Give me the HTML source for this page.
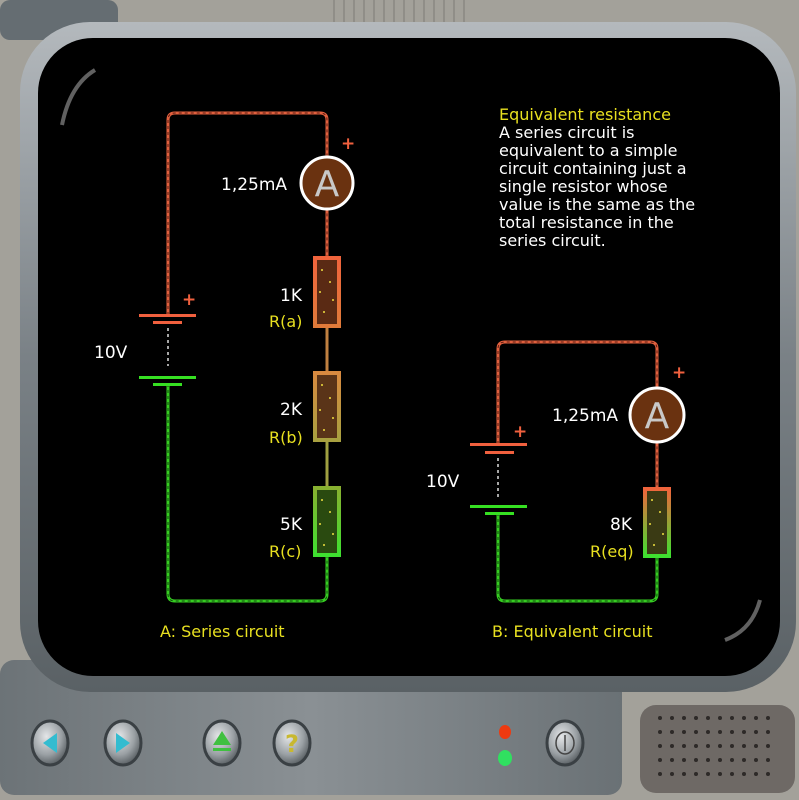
<!DOCTYPE html>
<html><head><meta charset="utf-8"><style>
html,body{margin:0;padding:0;background:#a3a19a}
svg{display:block}
text{font-family:"DejaVu Sans","Liberation Sans",sans-serif}
</style></head><body>
<svg width="799" height="800" viewBox="0 0 799 800" xmlns="http://www.w3.org/2000/svg">
<defs>
<linearGradient id="bz" x1="0" y1="0" x2="0" y2="1"><stop offset="0" stop-color="#b4b9bd"/><stop offset="0.5" stop-color="#7a8186"/><stop offset="1" stop-color="#5a6165"/></linearGradient>
<linearGradient id="pn" x1="0" y1="0" x2="1" y2="0"><stop offset="0" stop-color="#6c7377"/><stop offset="0.5" stop-color="#8a9094"/><stop offset="1" stop-color="#6a7175"/></linearGradient>
<linearGradient id="r1" x1="0" y1="0" x2="0" y2="1"><stop offset="0" stop-color="#f0643c"/><stop offset="1" stop-color="#e07a3a"/></linearGradient>
<linearGradient id="r2" x1="0" y1="0" x2="0" y2="1"><stop offset="0" stop-color="#d88a40"/><stop offset="1" stop-color="#a8a040"/></linearGradient>
<linearGradient id="r3" x1="0" y1="0" x2="0" y2="1"><stop offset="0" stop-color="#88b030"/><stop offset="1" stop-color="#3ee030"/></linearGradient>
<linearGradient id="r4" x1="0" y1="0" x2="0" y2="1"><stop offset="0" stop-color="#f0643c"/><stop offset="1" stop-color="#3ee030"/></linearGradient>
<radialGradient id="btn" cx="0.4" cy="0.35" r="0.7"><stop offset="0" stop-color="#e4e6e8"/><stop offset="0.6" stop-color="#9aa0a4"/><stop offset="1" stop-color="#50565a"/></radialGradient>
</defs>
<rect x="0" y="0" width="799" height="800" fill="#a3a19a"/>
<rect x="0" y="0" width="118" height="40" rx="10" fill="#656d72"/>
<g stroke="#8a8882" stroke-width="1.5">
<line x1="334" y1="0" x2="334" y2="22"/><line x1="344" y1="0" x2="344" y2="22"/><line x1="354" y1="0" x2="354" y2="22"/><line x1="364" y1="0" x2="364" y2="22"/><line x1="374" y1="0" x2="374" y2="22"/><line x1="384" y1="0" x2="384" y2="22"/><line x1="394" y1="0" x2="394" y2="22"/><line x1="404" y1="0" x2="404" y2="22"/><line x1="414" y1="0" x2="414" y2="22"/><line x1="424" y1="0" x2="424" y2="22"/><line x1="434" y1="0" x2="434" y2="22"/><line x1="444" y1="0" x2="444" y2="22"/><line x1="454" y1="0" x2="454" y2="22"/><line x1="464" y1="0" x2="464" y2="22"/>
</g>
<rect x="0" y="660" width="622" height="135" rx="14" fill="url(#pn)"/>
<rect x="640" y="705" width="155" height="88" rx="16" fill="#6e6965"/>
<g fill="#2d2a28">
<circle cx="660" cy="718" r="2"/><circle cx="672" cy="718" r="2"/><circle cx="684" cy="718" r="2"/><circle cx="696" cy="718" r="2"/><circle cx="708" cy="718" r="2"/><circle cx="720" cy="718" r="2"/><circle cx="732" cy="718" r="2"/><circle cx="744" cy="718" r="2"/><circle cx="756" cy="718" r="2"/><circle cx="768" cy="718" r="2"/>
<circle cx="660" cy="732" r="2"/><circle cx="672" cy="732" r="2"/><circle cx="684" cy="732" r="2"/><circle cx="696" cy="732" r="2"/><circle cx="708" cy="732" r="2"/><circle cx="720" cy="732" r="2"/><circle cx="732" cy="732" r="2"/><circle cx="744" cy="732" r="2"/><circle cx="756" cy="732" r="2"/><circle cx="768" cy="732" r="2"/>
<circle cx="660" cy="746" r="2"/><circle cx="672" cy="746" r="2"/><circle cx="684" cy="746" r="2"/><circle cx="696" cy="746" r="2"/><circle cx="708" cy="746" r="2"/><circle cx="720" cy="746" r="2"/><circle cx="732" cy="746" r="2"/><circle cx="744" cy="746" r="2"/><circle cx="756" cy="746" r="2"/><circle cx="768" cy="746" r="2"/>
<circle cx="660" cy="760" r="2"/><circle cx="672" cy="760" r="2"/><circle cx="684" cy="760" r="2"/><circle cx="696" cy="760" r="2"/><circle cx="708" cy="760" r="2"/><circle cx="720" cy="760" r="2"/><circle cx="732" cy="760" r="2"/><circle cx="744" cy="760" r="2"/><circle cx="756" cy="760" r="2"/><circle cx="768" cy="760" r="2"/>
<circle cx="660" cy="774" r="2"/><circle cx="672" cy="774" r="2"/><circle cx="684" cy="774" r="2"/><circle cx="696" cy="774" r="2"/><circle cx="708" cy="774" r="2"/><circle cx="720" cy="774" r="2"/><circle cx="732" cy="774" r="2"/><circle cx="744" cy="774" r="2"/><circle cx="756" cy="774" r="2"/><circle cx="768" cy="774" r="2"/>
</g>
<rect x="20" y="22" width="776" height="670" rx="70" fill="url(#bz)"/>
<rect x="38" y="38" width="742" height="638" rx="55" fill="#000"/>
<path d="M95 70 Q70 85 62 125" stroke="#8a8a8a" stroke-width="4" fill="none" opacity="0.7"/>
<path d="M760 600 Q752 630 725 640" stroke="#8a8a8a" stroke-width="4" fill="none" opacity="0.7"/>
<g>
<ellipse cx="50" cy="743" rx="18" ry="22" fill="url(#btn)" stroke="#3a4044" stroke-width="3"/>
<polygon points="57,733 57,753 43,743" fill="#33bcd0"/>
<ellipse cx="123" cy="743" rx="18" ry="22" fill="url(#btn)" stroke="#3a4044" stroke-width="3"/>
<polygon points="116,733 116,753 130,743" fill="#33bcd0"/>
<ellipse cx="222" cy="743" rx="18" ry="22" fill="url(#btn)" stroke="#3a4044" stroke-width="3"/>
<polygon points="213,745 231,745 222,731" fill="#40c040"/><rect x="213" y="748" width="18" height="3" fill="#40c040"/>
<ellipse cx="292" cy="743" rx="18" ry="22" fill="url(#btn)" stroke="#3a4044" stroke-width="3"/>
<text x="292" y="752" font-size="24" font-weight="bold" fill="#c8b830" text-anchor="middle">?</text>
<ellipse cx="565" cy="743" rx="18" ry="22" fill="url(#btn)" stroke="#3a4044" stroke-width="3"/>
<ellipse cx="565" cy="743" rx="9" ry="11" fill="none" stroke="#444" stroke-width="1.5"/><line x1="565" y1="735" x2="565" y2="751" stroke="#444" stroke-width="1.5"/>
<ellipse cx="505" cy="732" rx="6" ry="7" fill="#ee3a10"/>
<ellipse cx="505" cy="758" rx="7" ry="8" fill="#30e060"/>
</g>
<g fill="none" stroke-width="3">
<path d="M168 315 V120 Q168 113 175 113 H320 Q327 113 327 120 V256" stroke="#e0603e"/>
<path d="M168 315 V120 Q168 113 175 113 H320 Q327 113 327 120 V256" stroke="#5a1a10" stroke-width="1" stroke-dasharray="3 3"/>
<path d="M168 384 V594 Q168 601 175 601 H320 Q327 601 327 594 V556" stroke="#36cc22"/>
<path d="M168 384 V594 Q168 601 175 601 H320 Q327 601 327 594 V556" stroke="#0e4a0a" stroke-width="1" stroke-dasharray="3 3"/>
<line x1="327" y1="327" x2="327" y2="371" stroke="#c08040"/>
<line x1="327" y1="441" x2="327" y2="486" stroke="#a0a040"/>
<path d="M498 444 V349 Q498 342 505 342 H650 Q657 342 657 349 V487" stroke="#e0603e"/>
<path d="M498 444 V349 Q498 342 505 342 H650 Q657 342 657 349 V487" stroke="#5a1a10" stroke-width="1" stroke-dasharray="3 3"/>
<path d="M498 513 V594 Q498 601 505 601 H650 Q657 601 657 594 V556" stroke="#36cc22"/>
<path d="M498 513 V594 Q498 601 505 601 H650 Q657 601 657 594 V556" stroke="#0e4a0a" stroke-width="1" stroke-dasharray="3 3"/>
</g>
<g>
<rect x="139" y="314" width="57" height="3" fill="#f0603e"/><rect x="153" y="321" width="29" height="3" fill="#f0603e"/>
<line x1="168" y1="328" x2="168" y2="366" stroke="#ddd" stroke-width="1.5" stroke-dasharray="3 3"/>
<rect x="139" y="376" width="57" height="3" fill="#36e022"/><rect x="153" y="383" width="29" height="3" fill="#36e022"/>
<rect x="470" y="443" width="57" height="3" fill="#f0603e"/><rect x="485" y="451" width="29" height="3" fill="#f0603e"/>
<line x1="498" y1="458" x2="498" y2="498" stroke="#ddd" stroke-width="1.5" stroke-dasharray="3 3"/>
<rect x="470" y="505" width="57" height="3" fill="#36e022"/><rect x="485" y="512" width="29" height="3" fill="#36e022"/>
</g>
<circle cx="327" cy="183" r="26" fill="#6a3210" stroke="#fff" stroke-width="3"/>
<text x="327" y="196" font-size="36" fill="#c8c8c8" text-anchor="middle" font-family="Liberation Sans">A</text>
<circle cx="657" cy="415" r="27" fill="#6a3210" stroke="#fff" stroke-width="3"/>
<text x="657" y="428" font-size="36" fill="#c8c8c8" text-anchor="middle" font-family="Liberation Sans">A</text>
<g stroke-width="4">
<rect x="315" y="258" width="24" height="68" fill="#5a2a14" stroke="url(#r1)"/>
<rect x="315" y="373" width="24" height="67" fill="#5a3418" stroke="url(#r2)"/>
<rect x="315" y="488" width="24" height="67" fill="#2a4a10" stroke="url(#r3)"/>
<rect x="645" y="489" width="24" height="67" fill="#3a3a14" stroke="url(#r4)"/>
</g>
<g fill="#f0e040">
<circle cx="322" cy="270" r="1"/><circle cx="330" cy="282" r="1"/><circle cx="320" cy="292" r="1"/><circle cx="333" cy="300" r="1"/><circle cx="324" cy="312" r="1"/>
<circle cx="322" cy="385" r="1"/><circle cx="330" cy="398" r="1"/><circle cx="320" cy="410" r="1"/><circle cx="333" cy="418" r="1"/><circle cx="324" cy="430" r="1"/>
<circle cx="322" cy="500" r="1"/><circle cx="330" cy="512" r="1"/><circle cx="320" cy="524" r="1"/><circle cx="333" cy="534" r="1"/><circle cx="324" cy="545" r="1"/>
<circle cx="652" cy="500" r="1"/><circle cx="660" cy="512" r="1"/><circle cx="650" cy="524" r="1"/><circle cx="663" cy="534" r="1"/><circle cx="654" cy="545" r="1"/>
</g>
<g font-size="17" fill="#fff">
<text x="221" y="190">1,25mA</text>
<text x="552" y="421">1,25mA</text>
<text x="280" y="301">1K</text><text x="280" y="415">2K</text><text x="280" y="530">5K</text><text x="610" y="530">8K</text>
<text x="94" y="358">10V</text><text x="426" y="487">10V</text>
</g>
<g font-size="16" fill="#e8e020">
<text x="269" y="327">R(a)</text><text x="269" y="443">R(b)</text><text x="269" y="557">R(c)</text><text x="590" y="557">R(eq)</text>
<text x="160" y="637">A: Series circuit</text><text x="492" y="637">B: Equivalent circuit</text>
<text x="499" y="120">Equivalent resistance</text>
</g>
<g font-size="17" fill="#f0603e" font-weight="bold">
<text x="341" y="149">+</text><text x="182" y="305">+</text><text x="513" y="437">+</text><text x="672" y="378">+</text>
</g>
<g font-size="16" fill="#fff">
<text x="499" y="138">A series circuit is</text>
<text x="499" y="156">equivalent to a simple</text>
<text x="499" y="174">circuit containing just a</text>
<text x="499" y="192">single resistor whose</text>
<text x="499" y="210">value is the same as the</text>
<text x="499" y="228">total resistance in the</text>
<text x="499" y="246">series circuit.</text>
</g>
</svg>
</body></html>
